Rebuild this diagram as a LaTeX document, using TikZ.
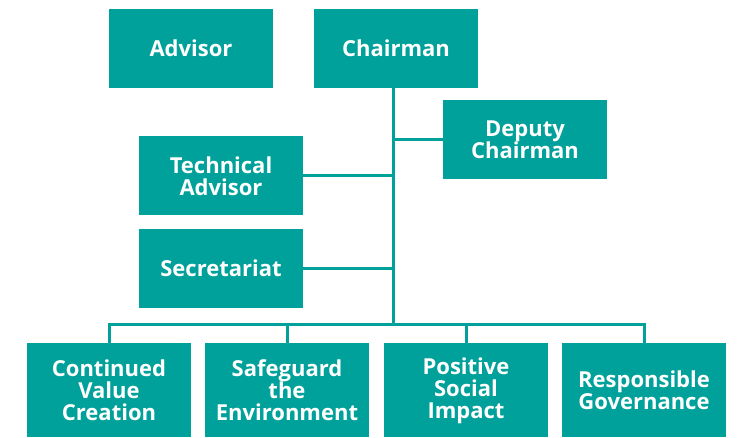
\documentclass[tikz,border=0pt]{standalone}
\usepackage{fontspec}
\setmainfont{Open Sans}
\definecolor{BoardTeal}{RGB}{0,161,154}
\usetikzlibrary{positioning, calc}

\begin{document}
\begin{tikzpicture}[x=1pt, y=-1pt,
	unit/.style={fill=BoardTeal, text=white, align=center, inner sep=0pt,
		minimum width=164pt, minimum height=79pt,
		font=\fontsize{22}{22}\selectfont\bfseries},
	pillar/.style={unit, minimum height=94pt},
	link/.style={draw=BoardTeal, line width=3pt}]
	\useasboundingbox (0,0) rectangle (737,438);

	% top of the board
	\node[unit] (adv) at (191,48.5) {Advisor};
	\node[unit] (chair) at (396,48.5) {Chairman};
	\node[unit] (dep) at (525,139.5) {Deputy\\Chairman};
	\node[unit] (tech) at (221,176) {Technical\\Advisor};
	\node[unit] (sec) at (221,268.5) {Secretariat};
	\coordinate (bus) at (393,325);

	% pillars
	\foreach \x/\t [count=\i] in {
		109/{Continued\\Value\\Creation},
		287/{Safeguard\\the\\Environment},
		466/{Positive\\Social\\Impact},
		644/{Responsible\\Governance}}{
		\node[pillar] (p\i) at (\x,390.5) {\t};
	}

	\draw[link] (chair.south -| bus) -- (bus);
	\draw[link] (dep.west) -- (dep.west -| bus);
	\draw[link] (tech.east) -- (tech.east -| bus);
	\draw[link] (sec.east) -- (sec.east -| bus);
	\draw[link] (p1.north) |- (bus) -| (p4.north);
	\draw[link] (p2.north) -- (p2.north |- bus);
	\draw[link] (p3.north) -- (p3.north |- bus);
\end{tikzpicture}
\end{document}
